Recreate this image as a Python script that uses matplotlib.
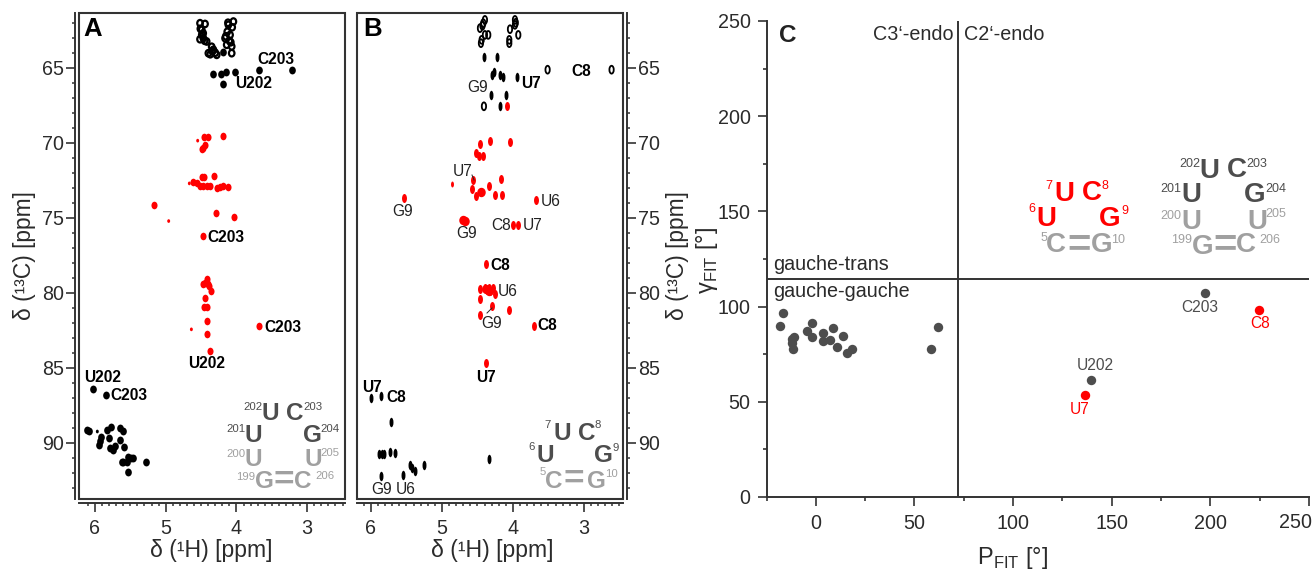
import matplotlib
matplotlib.use('Agg')
import matplotlib.pyplot as plt
from matplotlib.lines import Line2D
from matplotlib.markers import MarkerStyle
from matplotlib.patches import Rectangle
from matplotlib.path import Path
from matplotlib.transforms import Affine2D

plt.rcParams['font.family'] = ['Liberation Sans', 'DejaVu Sans']
plt.rcParams['mathtext.fontset'] = 'custom'
plt.rcParams['mathtext.rm'] = 'Liberation Sans'

W, H = 1315, 574
DARK = '#4d4d4d'
LIGHT = '#a0a0a0'
AXC = '#333333'
TXT = '#2b2b2b'
RED = '#ff0000'

# Panel A peaks, (1H, 13C) in ppm
a_open_h = [4.515, 4.444, 4.491, 4.468, 4.515, 4.421, 4.397, 4.326, 4.279, 4.043, 4.114, 4.161, 4.09, 4.067, 4.067, 4.138, 4.49, 4.45, 4.35, 4.30, 4.10, 4.13, 4.51, 4.47, 4.06, 4.12, 4.08, 4.15, 4.37, 4.34]
a_open_c = [62.03, 62.08, 62.47, 63.03, 63.1, 63.25, 64.03, 63.8, 64.14, 61.92, 62.14, 63.03, 62.81, 63.58, 64.03, 63.47, 62.8, 63.2, 63.6, 64.0, 63.2, 62.6, 62.4, 62.7, 62.3, 62.0, 63.3, 62.9, 64.1, 63.9]
a_black_h = [4.185, 4.336, 4.222, 4.152, 4.02, 3.68, 3.21, 4.194, 6.033, 5.849, 6.118, 6.09, 5.835, 5.774, 5.92, 5.93, 5.807, 5.948, 5.788, 5.717, 5.741, 5.646, 5.599, 5.642, 5.585, 5.599, 5.528, 5.458, 5.552, 5.528, 5.279, 5.49, 5.62]
a_black_c = [63.92, 65.4, 65.4, 65.27, 65.29, 65.13, 65.13, 66.09, 86.39, 86.81, 89.18, 89.2, 89.12, 88.96, 89.62, 89.85, 89.67, 90.13, 90.33, 90.22, 90.51, 89.0, 89.2, 89.8, 90.25, 91.29, 90.95, 91.0, 91.29, 91.95, 91.29, 91.0, 91.3]
a_red_h = [4.453, 4.397, 4.194, 4.444, 4.468, 4.491, 4.322, 4.491, 4.453, 4.609, 4.562, 4.515, 4.468, 4.421, 4.373, 4.279, 4.232, 4.185, 4.114, 5.17, 4.293, 4.039, 4.468, 4.444, 4.397, 4.421, 4.468, 4.388, 4.364, 4.449, 4.458, 4.411, 4.416, 4.421, 3.68, 4.378]
a_red_c = [69.61, 69.61, 69.57, 70.12, 70.34, 70.41, 72.23, 72.29, 72.27, 72.63, 72.71, 72.85, 72.89, 72.89, 72.89, 73.0, 72.96, 72.85, 72.98, 74.13, 74.71, 74.93, 76.24, 79.32, 79.43, 79.1, 79.43, 79.54, 79.87, 80.38, 80.94, 80.94, 81.91, 82.75, 82.22, 83.86]
a_tiny_h = [4.548, 4.958, 4.637, 4.666, 5.967]
a_tiny_c = [69.86, 75.22, 82.44, 72.71, 89.25]
a_tiny_col = ['r', 'r', 'r', 'r', 'k']

# Panel B peaks
b_open_h = [4.395, 4.418, 4.465, 4.395, 4.348, 4.441, 4.451, 3.972, 3.972, 4.042, 3.925, 4.052, 4.052, 3.512, 2.611, 4.409, 4.43, 3.96]
b_open_c = [61.81, 62.03, 62.36, 62.81, 62.81, 63.14, 63.36, 61.81, 62.14, 62.43, 62.81, 63.14, 63.36, 65.13, 65.13, 67.57, 62.2, 62.0]
b_black_h = [4.404, 4.23, 4.291, 4.263, 4.183, 4.146, 3.939, 4.315, 4.099, 4.183, 5.996, 5.859, 5.723, 5.883, 5.85, 5.817, 5.733, 5.657, 5.545, 5.446, 5.418, 5.38, 5.249, 4.343, 5.864]
b_black_c = [64.31, 64.31, 65.47, 65.31, 65.47, 65.62, 65.62, 66.84, 66.84, 67.57, 86.99, 86.88, 88.63, 90.73, 90.76, 90.76, 90.64, 90.71, 92.17, 91.46, 91.66, 91.89, 91.51, 91.07, 92.22]
b_red_h = [4.08, 4.47, 4.329, 4.047, 4.521, 4.474, 4.418, 4.559, 4.164, 4.334, 4.582, 4.451, 4.521, 4.258, 4.155, 3.676, 5.535, 3.996, 3.925, 4.385, 4.465, 4.395, 4.334, 4.254, 4.465, 4.301, 4.057, 4.47, 3.709, 4.38, 4.36, 4.32, 4.28]
b_red_c = [67.57, 70.05, 69.88, 69.94, 70.67, 70.89, 70.85, 72.45, 72.39, 72.89, 73.11, 73.25, 73.56, 73.45, 73.47, 73.8, 73.67, 75.48, 75.48, 78.1, 79.74, 79.65, 79.7, 80.09, 80.43, 80.87, 81.14, 81.47, 82.22, 84.7, 79.8, 79.9, 79.7]
b_blob_h = [4.451, 4.704, 4.68, 4.38, 4.34]
b_blob_c = [73.25, 75.17, 75.2, 79.75, 79.85]
b_tiny_h = [4.855]
b_tiny_c = [72.78]

# Panel C points, P and gamma in degrees
c_p = [-16.5, -18.2, -1.7, -4.5, -2, 3.4, 3.7, 7, 8.8, 13.9, 10.6, 18.5, 15.7, -11.3, -12.3, -12.3, -11.4, 62.1, 58.4]
c_g = [96.8, 89.8, 91.2, 87.2, 84.2, 86, 82, 82.5, 88.6, 84.6, 78.9, 77.6, 75.8, 84.2, 82.8, 80.7, 77.9, 89.1, 77.7]
c_gray_p = [197.3, 139.6]
c_gray_g = [107, 61.6]
c_red_p = [224.9, 136.2]
c_red_g = [98.4, 53.6]
c_split_p = 72
c_split_g = 114.5

h_ticks = [6, 5, 4, 3]
c_ticks = [65, 70, 75, 80, 85, 90]
deg_ticks = [0, 50, 100, 150, 200, 250]

fig = plt.figure(figsize=(W / 100, H / 100), dpi=100)


def rect(l, t, r, b):
    return [l / W, 1 - b / H, (r - l) / W, (b - t) / H]


def put(x, y, s, size=11.2, color='black', weight='normal', ha='center', **kw):
    # text placed in picture pixels
    fig.text(x / W, 1 - y / H, s, fontsize=size, color=color, fontweight=weight, ha=ha, va='center', **kw)


def oval(w, h):
    return MarkerStyle(Path.unit_circle().transformed(Affine2D().scale(w, h)))


def spectrum(rect_px, xlim, ylim, side):
    ax = fig.add_axes(rect(*rect_px))
    ax.set_xlim(*xlim)
    ax.set_ylim(*ylim)
    for s in ax.spines.values():
        s.set_visible(False)
    for s in ['bottom', side]:
        ax.spines[s].set_visible(True)
        ax.spines[s].set_position(('outward', 2.9))
        ax.spines[s].set_linewidth(1.4)
        ax.spines[s].set_color(AXC)
    ax.add_patch(Rectangle((0, 0), 1, 1, transform=ax.transAxes, fill=False, lw=1.5, ec=AXC, clip_on=False, zorder=5))
    ax.set_xticks(h_ticks)
    ax.set_xticks([2.5 + i * 0.1 for i in range(37)], minor=True)
    ax.set_yticks(c_ticks)
    ax.set_yticks(range(62, 94), minor=True)
    ax.yaxis.set_ticks_position(side)
    ax.tick_params(which='major', length=6.5, width=1.2, color=AXC, labelsize=14.2, labelcolor=TXT)
    ax.tick_params(axis='x', which='major', pad=5)
    ax.tick_params(axis='y', which='major', pad=1.5)
    ax.tick_params(which='minor', length=2.4, width=1.1, color=AXC)
    return ax


# A
axa = spectrum((79, 13, 345, 499), (6.226, 2.465), (93.75, 61.35), 'left')
axa.scatter(a_open_h, a_open_c, s=22, marker=oval(0.85, 1), facecolors='none', edgecolors='black', linewidths=1.6)
axa.scatter(a_black_h, a_black_c, s=32, marker=oval(0.85, 1), color='black', linewidths=0)
axa.scatter(a_red_h, a_red_c, s=30, marker=oval(0.8, 1), color=RED, linewidths=0)
axa.scatter(a_tiny_h, a_tiny_c, s=7, marker=oval(0.8, 1), color=a_tiny_col, linewidths=0)

# B
axb = spectrum((357, 13, 623, 499), (6.197, 2.45), (93.75, 61.35), 'right')
axb.scatter(b_open_h, b_open_c, s=32, marker=oval(0.55, 1), facecolors='none', edgecolors='black', linewidths=1.3)
axb.scatter(b_black_h, b_black_c, s=46, marker=oval(0.42, 1), color='black', linewidths=0)
axb.scatter(b_red_h, b_red_c, s=42, marker=oval(0.55, 1), color=RED, linewidths=0)
axb.scatter(b_blob_h, b_blob_c, s=46, marker=oval(0.9, 1), color=RED, linewidths=0)
axb.scatter(b_tiny_h, b_tiny_c, s=18, marker=oval(0.5, 1), color=RED, linewidths=0)

# C
axc = fig.add_axes(rect(766.5, 21, 1309, 497))
axc.set_xlim(-24.6, 250)
axc.set_ylim(0, 250)
axc.spines['top'].set_visible(False)
axc.spines['right'].set_visible(False)
for s in ['left', 'bottom']:
    axc.spines[s].set_linewidth(1.4)
    axc.spines[s].set_color(AXC)
axc.set_xticks(deg_ticks, labels=[str(t) for t in deg_ticks[:-1]] + [''])
axc.set_xticks([-25, 25, 75, 125, 175, 225], minor=True)
axc.set_yticks(deg_ticks)
axc.set_yticks([25, 75, 125, 175, 225], minor=True)
axc.tick_params(which='major', length=6.5, width=1.2, color=AXC, labelsize=14.2, labelcolor=TXT)
axc.tick_params(axis='x', which='major', pad=6)
axc.tick_params(axis='y', which='major', pad=5)
axc.tick_params(which='minor', length=3.2, width=1.2, color=AXC)
axc.axvline(c_split_p, color=AXC, lw=1.4)
axc.axhline(c_split_g, color=AXC, lw=1.4)
axc.scatter(c_p, c_g, s=46, color=DARK, linewidths=0, zorder=3)
axc.scatter(c_gray_p, c_gray_g, s=46, color=DARK, linewidths=0, zorder=3)
axc.scatter(c_red_p, c_red_g, s=46, color=RED, linewidths=0, zorder=3)
# last x label sits left of its tick, inside the picture
put(1296, 523, str(deg_ticks[-1]), size=14.2, color=TXT)

# axis titles
put(211, 550, 'δ (¹H) [ppm]', size=16.6, color=TXT)
put(492, 550, 'δ (¹H) [ppm]', size=16.6, color=TXT)
put(25, 256, 'δ (¹³C) [ppm]', size=16.4, color=TXT, rotation=90)
put(677, 256, 'δ (¹³C) [ppm]', size=16.4, color=TXT, rotation=90)
put(1012, 558, 'P$_{\\mathrm{FIT}}$ [°]', size=17, color=TXT)
put(707, 260, 'γ$_{\\mathrm{FIT}}$ [°]', size=17, color=TXT, rotation=90)

# panel letters
put(93, 29, 'A', size=18.5, weight='bold')
put(373, 29, 'B', size=18.5, weight='bold')
put(788, 36, 'C', size=17.5, weight='bold', color='#222222')

# panel C region captions
put(953, 34, 'C3‘-endo', size=14.2, color=TXT, ha='right')
put(964, 34, 'C2‘-endo', size=14.2, color=TXT, ha='left')
put(773, 264, 'gauche-trans', size=14.2, color=TXT, ha='left')
put(773, 291, 'gauche-gauche', size=14.2, color=TXT, ha='left')

# peak assignments
for x, y, s in [(276, 59, 'C203'), (254, 84, 'U202'), (226, 238, 'C203'), (283, 327, 'C203'), (207, 363, 'U202'),
                (103, 378, 'U202'), (129, 396, 'C203'), (581, 71, 'C8'), (531, 84, 'U7'), (500, 266, 'C8'),
                (547, 326, 'C8'), (486, 377, 'U7'), (372, 388, 'U7'), (396, 398, 'C8')]:
    put(x, y, s, weight='bold')
for x, y, s in [(478, 88, 'G9'), (463, 172, 'U7'), (551, 201, 'U6'), (403, 211, 'G9'), (467, 234, 'G9'), (501, 226, 'C8'),
                (533, 226, 'U7'), (508, 292, 'U6'), (492, 323, 'G9'), (382, 489, 'G9'), (406, 490, 'U6')]:
    put(x, y, s, color='#222222')
put(1200, 307, 'C203', color=DARK)
put(1260, 324, 'C8', color=RED)
put(1095, 366, 'U202', color=DARK)
put(1080, 409, 'U7', color=RED)

# short leader lines
for xs, ys in [((472, 474), (175, 180)), ((487, 492), (313, 308))]:
    fig.add_artist(Line2D([x / W for x in xs], [1 - y / H for y in ys], color='#222222', lw=0.7))


# hairpin sketches: (x, y, text, colour)
def hairpin(letters, numbers, big, small):
    for x, y, s, c in letters:
        put(x, y, s, size=big * 1.45 if s == '=' else big, color=c, weight='bold')
    for x, y, s, c in numbers:
        put(x, y, s, size=small, color=c)


hairpin([(270, 413, 'U', DARK), (295, 413, 'C', DARK), (253, 436, 'U', DARK), (312, 436, 'G', DARK),
         (253, 459, 'U', LIGHT), (313, 459, 'U', LIGHT), (264, 482, 'G', LIGHT), (284, 480, '=', LIGHT), (303, 482, 'C', LIGHT)],
        [(253, 407, '202', DARK), (313, 407, '203', DARK), (236, 429, '201', DARK), (330, 429, '204', DARK),
         (236, 454, '200', LIGHT), (330, 453, '205', LIGHT), (246, 477, '199', LIGHT), (325, 476, '206', LIGHT)], 17.5, 8.2)
hairpin([(562, 433, 'U', DARK), (587, 433, 'C', DARK), (545, 456, 'U', DARK), (603, 456, 'G', DARK),
         (554, 481, 'C', LIGHT), (574, 479, '=', LIGHT), (596, 481, 'G', LIGHT)],
        [(548, 425, '7', DARK), (598, 425, '8', DARK), (532, 447, '6', DARK), (616, 448, '9', DARK),
         (543, 472, '5', LIGHT), (611, 474, '10', LIGHT)], 17.5, 8.2)
hairpin([(1064, 194, 'U', RED), (1092, 193, 'C', RED), (1046, 219, 'U', RED), (1110, 219, 'G', RED),
         (1056, 245, 'C', LIGHT), (1079, 245, '=', LIGHT), (1102, 245, 'G', LIGHT)],
        [(1049, 186, '7', RED), (1105, 186, '8', RED), (1032, 209, '6', RED), (1125, 211, '9', RED),
         (1044, 238, '5', LIGHT), (1118, 240, '10', LIGHT)], 20, 9)
hairpin([(1209, 171, 'U', DARK), (1237, 170, 'C', DARK), (1191, 195, 'U', DARK), (1255, 195, 'G', DARK),
         (1191, 222, 'U', LIGHT), (1257, 222, 'U', LIGHT), (1203, 247, 'G', LIGHT), (1225, 245, '=', LIGHT), (1246, 245, 'C', LIGHT)],
        [(1190, 164, '202', DARK), (1257, 164, '203', DARK), (1171, 189, '201', DARK), (1276, 189, '204', DARK),
         (1171, 216, '200', LIGHT), (1276, 214, '205', LIGHT), (1182, 240, '199', LIGHT), (1270, 240, '206', LIGHT)], 20, 9)

fig.savefig('out.png', dpi=100)
